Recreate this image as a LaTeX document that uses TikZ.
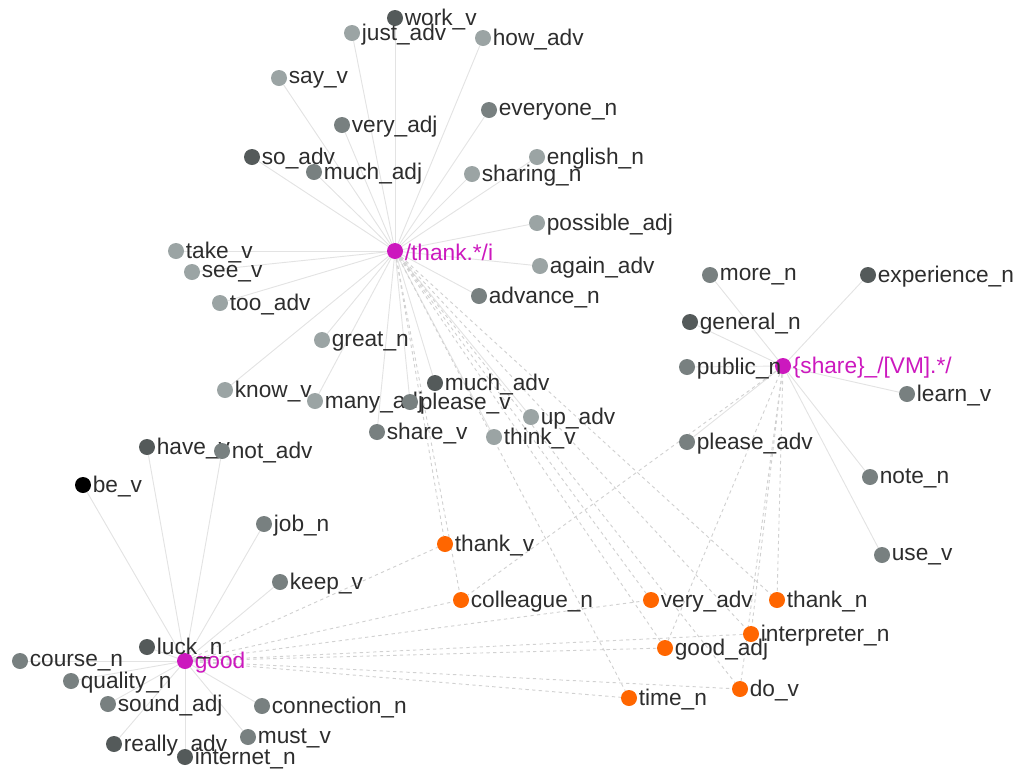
\documentclass[tikz,border=0pt]{standalone}
\usepackage{fontspec}
\setmainfont{Liberation Sans}
\usetikzlibrary{backgrounds}
\definecolor{hub}{RGB}{204,24,190}
\definecolor{shared}{RGB}{255,102,0}
\definecolor{light}{RGB}{155,164,164}
\definecolor{mid}{RGB}{120,128,128}
\definecolor{dark}{RGB}{84,90,90}
\definecolor{ink}{RGB}{45,45,45}
\tikzset{
    dot/.style={circle,fill=#1,inner sep=0pt,minimum size=12pt},
    lbl/.style={inner sep=1pt,yshift=-1pt,font=\fontsize{17}{19}\selectfont,text=#1},
    word/.style 2 args={dot=#1,label={[lbl=ink]east:{#2}}},
    hubword/.style={dot=hub,label={[lbl=hub]east:{#1}}},
    tie/.style={draw=black!11,line width=0.7pt},
    dashtie/.style={draw=black!18,line width=0.7pt,dash pattern=on 2.5pt off 2.5pt}
}

\begin{document}
\begin{tikzpicture}[x=0.75pt,y=-0.75pt]
  \useasboundingbox (0,0) rectangle (1014,769);

  % Hubs
  \node[hubword={/thank.*/i}] (thank) at (395,251) {};
  \node[hubword={\{share\}\_/[VM].*/}] (share) at (783,366) {};
  \node[hubword={good}] (good) at (185,661) {};

  % Collocates of /thank.*/i
  \node[word={dark}{work\_v}] (workv) at (395,18) {};
  \node[word={light}{just\_adv}] (justadv) at (352,33) {};
  \node[word={light}{how\_adv}] (howadv) at (483,38) {};
  \node[word={light}{say\_v}] (sayv) at (279,78) {};
  \node[word={mid}{very\_adj}] (veryadj) at (342,125) {};
  \node[word={mid}{everyone\_n}] (everyonen) at (489,110) {};
  \node[word={dark}{so\_adv}] (soadv) at (252,157) {};
  \node[word={mid}{much\_adj}] (muchadj) at (314,172) {};
  \node[word={light}{english\_n}] (englishn) at (537,157) {};
  \node[word={light}{sharing\_n}] (sharingn) at (472,174) {};
  \node[word={light}{possible\_adj}] (possibleadj) at (537,223) {};
  \node[word={light}{take\_v}] (takev) at (176,251) {};
  \node[word={light}{see\_v}] (seev) at (192,272) {};
  \node[word={light}{again\_adv}] (againadv) at (540,266) {};
  \node[word={light}{too\_adv}] (tooadv) at (220,303) {};
  \node[word={mid}{advance\_n}] (advancen) at (479,296) {};
  \node[word={light}{great\_n}] (greatn) at (322,340) {};
  \node[word={light}{know\_v}] (knowv) at (225,390) {};
  \node[word={light}{many\_adj}] (manyadj) at (315,401) {};
  \node[word={dark}{much\_adv}] (muchadv) at (435,383) {};
  \node[word={mid}{please\_v}] (pleasev) at (410,402) {};
  \node[word={light}{up\_adv}] (upadv) at (531,417) {};
  \node[word={mid}{share\_v}] (sharev) at (377,432) {};
  \node[word={light}{think\_v}] (thinkv) at (494,437) {};

  % Collocates of {share}
  \node[word={mid}{more\_n}] (moren) at (710,275) {};
  \node[word={dark}{experience\_n}] (experiencen) at (868,275) {};
  \node[word={dark}{general\_n}] (generaln) at (690,322) {};
  \node[word={mid}{public\_n}] (publicn) at (687,367) {};
  \node[word={mid}{learn\_v}] (learnv) at (907,394) {};
  \node[word={mid}{please\_adv}] (pleaseadv) at (687,442) {};
  \node[word={mid}{note\_n}] (noten) at (870,477) {};
  \node[word={mid}{use\_v}] (usev) at (882,555) {};

  % Collocates of good
  \node[word={dark}{have\_v}] (havev) at (147,447) {};
  \node[word={mid}{not\_adv}] (notadv) at (222,451) {};
  \node[word={black}{be\_v}] (bev) at (83,485) {};
  \node[word={mid}{job\_n}] (jobn) at (264,524) {};
  \node[word={mid}{keep\_v}] (keepv) at (280,582) {};
  \node[word={dark}{luck\_n}] (luckn) at (147,647) {};
  \node[word={mid}{course\_n}] (coursen) at (20,661) {};
  \node[word={mid}{quality\_n}] (qualityn) at (71,681) {};
  \node[word={mid}{sound\_adj}] (soundadj) at (108,704) {};
  \node[word={mid}{connection\_n}] (connectionn) at (262,706) {};
  \node[word={dark}{really\_adv}] (reallyadv) at (114,744) {};
  \node[word={mid}{must\_v}] (mustv) at (248,737) {};
  \node[word={dark}{internet\_n}] (internetn) at (185,757) {};

  % Shared collocates
  \node[word={shared}{thank\_v}] (thankv) at (445,544) {};
  \node[word={shared}{colleague\_n}] (colleaguen) at (461,600) {};
  \node[word={shared}{very\_adv}] (veryadv) at (651,600) {};
  \node[word={shared}{thank\_n}] (thankn) at (777,600) {};
  \node[word={shared}{interpreter\_n}] (interpretern) at (751,634) {};
  \node[word={shared}{good\_adj}] (goodadj) at (665,648) {};
  \node[word={shared}{time\_n}] (timen) at (629,698) {};
  \node[word={shared}{do\_v}] (dov) at (740,689) {};

  % Links
  \begin{scope}[on background layer]
    \foreach \w in {workv,justadv,howadv,sayv,veryadj,everyonen,soadv,muchadj,englishn,sharingn,possibleadj,takev,seev,againadv,tooadv,advancen,greatn,knowv,manyadj,muchadv,pleasev,upadv,sharev,thinkv}
      \draw[tie] (thank) -- (\w);
    \foreach \w in {moren,experiencen,generaln,publicn,learnv,pleaseadv,noten,usev}
      \draw[tie] (share) -- (\w);
    \foreach \w in {havev,notadv,bev,jobn,keepv,luckn,coursen,qualityn,soundadj,connectionn,reallyadv,mustv,internetn}
      \draw[tie] (good) -- (\w);
    \foreach \w in {thankv,colleaguen,veryadv,thankn,interpretern,goodadj,timen,dov}
      \draw[dashtie] (thank) -- (\w);
    \foreach \w in {thankv,colleaguen,veryadv,interpretern,goodadj,timen,dov}
      \draw[dashtie] (good) -- (\w);
    \foreach \w in {colleaguen,thankn,interpretern,goodadj,dov}
      \draw[dashtie] (share) -- (\w);
  \end{scope}
\end{tikzpicture}
\end{document}
